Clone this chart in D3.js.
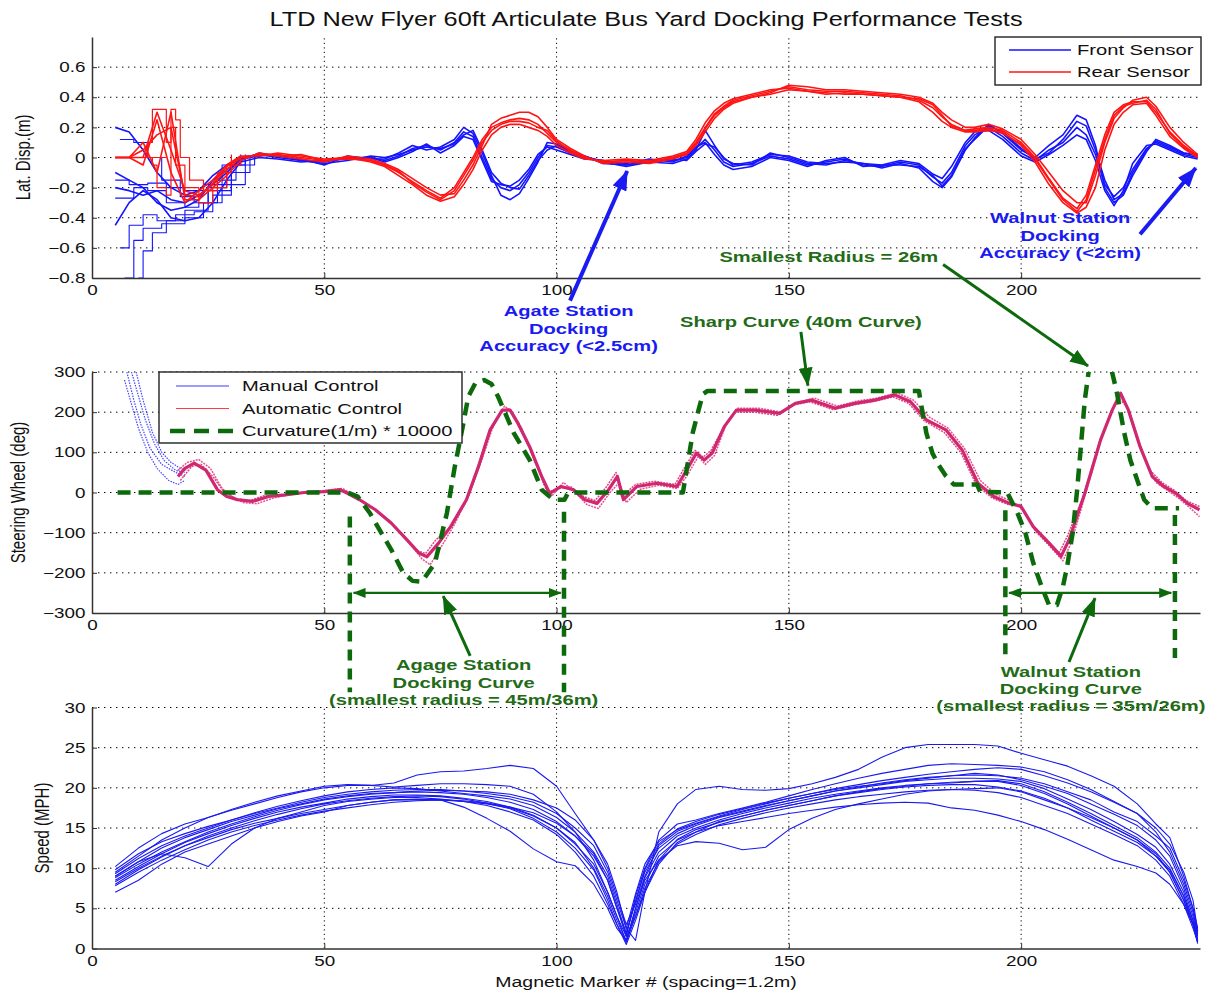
<!DOCTYPE html>
<html><head><meta charset="utf-8">
<script src="https://cdn.jsdelivr.net/npm/d3@7"></script>
<style>
body{margin:0;background:#fff;}
svg{display:block;font-family:"Liberation Sans",Arial,Helvetica,sans-serif;}
</style></head><body>
<svg id="chart" width="1216" height="992"></svg>
<script>
// ---------------- DATA ----------------
const xTicks = [0, 50, 100, 150, 200];
const latTicks = [-0.8, -0.6, -0.4, -0.2, 0, 0.2, 0.4, 0.6];
const steerTicks = [-300, -200, -100, 0, 100, 200, 300];
const speedTicks = [0, 5, 10, 15, 20, 25, 30];

// Lateral displacement: common marker grid
const latGrid = [5,8,11,14,17,20,23,26,29,32,36,40,45,50,55,60,63,66,69,72,75,78,80,82,84,86,88,90,92,94,96,98,100,103,106,110,115,120,125,128,130,132,134,136,138,142,146,150,154,158,162,166,170,174,178,181,183,185,188,190,193,196,200,203,206,209,212,214,216,218,220,222,224,227,229,232,235,238];
const front1 = [0.20,0.17,0.05,-0.10,-0.20,-0.25,-0.22,-0.12,-0.05,0.00,0.02,0.00,-0.02,-0.03,0.00,0.00,-0.02,0.01,0.06,0.08,0.05,0.10,0.17,0.14,0.00,-0.14,-0.20,-0.22,-0.18,-0.10,0.00,0.08,0.07,0.03,0.00,-0.02,-0.05,-0.02,-0.02,0.00,0.06,0.12,0.05,-0.03,-0.06,-0.04,0.01,-0.01,-0.05,-0.03,-0.01,-0.05,-0.06,-0.03,-0.05,-0.13,-0.17,-0.10,0.08,0.15,0.20,0.14,0.03,-0.02,0.05,0.10,0.20,0.15,0.02,-0.18,-0.26,-0.20,-0.08,0.06,0.10,0.06,0.02,0.00];
const front2 = [-0.10,-0.15,-0.20,-0.30,-0.35,-0.33,-0.28,-0.15,-0.08,-0.02,0.03,0.01,-0.01,-0.05,0.01,-0.01,-0.01,0.03,0.08,0.05,0.07,0.12,0.20,0.16,0.03,-0.12,-0.25,-0.28,-0.24,-0.14,-0.03,0.10,0.09,0.04,0.01,-0.03,-0.06,-0.03,-0.04,-0.01,0.05,0.18,0.08,-0.01,-0.04,-0.05,0.03,0.00,-0.04,-0.05,-0.02,-0.04,-0.07,-0.04,-0.07,-0.16,-0.20,-0.13,0.05,0.13,0.22,0.16,0.05,0.00,0.08,0.15,0.28,0.25,0.08,-0.20,-0.30,-0.25,-0.12,0.04,0.12,0.08,0.03,0.01];
const front3 = [-0.45,-0.30,-0.22,-0.28,-0.40,-0.42,-0.40,-0.30,-0.15,-0.03,0.00,-0.01,-0.03,-0.02,-0.01,0.00,-0.03,0.00,0.04,0.09,0.03,0.08,0.14,0.12,-0.02,-0.16,-0.18,-0.19,-0.15,-0.08,0.02,0.07,0.05,0.02,-0.01,-0.02,-0.04,-0.01,-0.03,0.01,0.07,0.10,0.02,-0.05,-0.08,-0.06,0.00,-0.02,-0.06,-0.02,0.00,-0.06,-0.05,-0.02,-0.04,-0.11,-0.14,-0.06,0.10,0.17,0.18,0.12,0.01,-0.03,0.02,0.08,0.15,0.12,-0.02,-0.22,-0.32,-0.22,-0.04,0.08,0.09,0.05,0.01,-0.01];
const front4 = [-0.20,-0.22,-0.25,-0.22,-0.28,-0.30,-0.25,-0.18,-0.10,-0.01,0.01,0.02,-0.02,-0.04,-0.02,0.01,0.00,0.02,0.05,0.07,0.06,0.09,0.15,0.18,0.05,-0.10,-0.17,-0.20,-0.21,-0.12,-0.02,0.05,0.08,0.04,0.01,-0.04,-0.05,-0.03,-0.01,-0.02,0.04,0.09,0.07,0.00,-0.05,-0.03,0.02,0.01,-0.03,-0.04,-0.03,-0.04,-0.05,-0.05,-0.06,-0.12,-0.19,-0.12,0.06,0.12,0.21,0.17,0.06,-0.01,0.03,0.12,0.24,0.21,0.05,-0.15,-0.28,-0.24,-0.10,0.05,0.11,0.07,0.03,0.02];
const rear1 = [0,0,0,0.30,0.05,-0.22,-0.25,-0.18,-0.08,0.00,0.02,0.02,0.00,-0.02,0.00,-0.02,-0.05,-0.10,-0.16,-0.22,-0.27,-0.20,-0.10,0.00,0.12,0.20,0.23,0.25,0.26,0.25,0.22,0.16,0.10,0.05,0.00,-0.03,-0.02,-0.03,0.00,0.03,0.10,0.20,0.29,0.34,0.38,0.41,0.44,0.47,0.45,0.44,0.44,0.43,0.42,0.41,0.38,0.33,0.27,0.22,0.18,0.19,0.20,0.18,0.10,0.00,-0.14,-0.27,-0.34,-0.25,-0.05,0.15,0.30,0.35,0.37,0.37,0.30,0.17,0.08,0.01];
const rear2 = [0,0,0.10,-0.10,0.30,-0.28,-0.28,-0.20,-0.12,-0.02,0.03,0.01,-0.01,-0.03,0.01,-0.01,-0.04,-0.08,-0.14,-0.20,-0.25,-0.24,-0.15,-0.05,0.08,0.22,0.26,0.28,0.30,0.30,0.27,0.20,0.12,0.06,0.01,-0.04,-0.03,-0.04,-0.01,0.02,0.08,0.17,0.26,0.32,0.36,0.40,0.43,0.48,0.47,0.45,0.45,0.44,0.43,0.42,0.40,0.36,0.30,0.25,0.20,0.20,0.22,0.19,0.12,0.02,-0.10,-0.22,-0.30,-0.30,-0.12,0.10,0.26,0.33,0.38,0.40,0.34,0.20,0.10,0.02];
const rear3 = [0,0,-0.05,0.25,-0.10,-0.30,-0.22,-0.15,-0.05,0.01,0.01,0.03,0.01,-0.01,0.00,-0.03,-0.06,-0.12,-0.18,-0.25,-0.29,-0.26,-0.18,-0.08,0.05,0.15,0.20,0.22,0.22,0.20,0.18,0.14,0.08,0.03,-0.01,-0.02,-0.01,-0.02,0.01,0.04,0.12,0.23,0.31,0.36,0.39,0.42,0.45,0.46,0.44,0.42,0.43,0.42,0.41,0.40,0.37,0.30,0.24,0.20,0.17,0.17,0.18,0.17,0.08,-0.03,-0.18,-0.30,-0.37,-0.33,-0.20,0.05,0.22,0.30,0.35,0.36,0.28,0.14,0.06,0.00];
const rear4 = [0,0,0.05,0.15,0.20,-0.25,-0.26,-0.17,-0.06,0.00,0.02,0.01,0.02,-0.02,-0.01,-0.02,-0.05,-0.09,-0.17,-0.23,-0.28,-0.22,-0.12,-0.02,0.10,0.18,0.22,0.24,0.24,0.23,0.20,0.18,0.11,0.04,0.00,-0.03,-0.02,-0.03,0.00,0.02,0.09,0.19,0.28,0.33,0.37,0.40,0.42,0.45,0.44,0.43,0.42,0.42,0.41,0.40,0.39,0.35,0.28,0.21,0.18,0.18,0.19,0.16,0.09,-0.01,-0.15,-0.28,-0.36,-0.28,-0.08,0.12,0.28,0.34,0.36,0.38,0.32,0.16,0.07,0.01];
// Early, diverging front-sensor runs  [marker, m]
const frontEarly = [
  [[6,-0.60],[8,-0.45],[11,-0.38],[14,-0.42],[18,-0.38],[22,-0.36],[26,-0.25],[30,-0.10],[34,0.00]],
  [[7,-0.80],[9,-0.55],[11,-0.47],[15,-0.44],[20,-0.40],[24,-0.30],[28,-0.18],[33,0.00]],
  [[10,-0.80],[11,-0.62],[13,-0.50],[16,-0.42],[20,-0.35],[25,-0.22],[30,-0.05],[35,0.02]],
  [[6,0.12],[9,0.10],[12,0.00],[15,-0.15],[19,-0.26],[22,-0.30],[25,-0.20],[29,-0.05],[33,0.02]],
  [[5,-0.27],[9,-0.20],[12,-0.22],[16,-0.30],[20,-0.33],[23,-0.30],[27,-0.15],[31,-0.02]],
  [[5,-0.15],[8,-0.18],[12,-0.17],[16,-0.20],[20,-0.22],[24,-0.18],[28,-0.05],[32,0.02]]
];
const rearEarly = [
  [[11,0],[12,0.10],[13,0.32],[15,0.32],[16,0.10],[17,0.20],[18,-0.05],[20,-0.20],[23,-0.30],[26,-0.20],[29,-0.05],[32,0]],
  [[12,0],[13,-0.05],[14,-0.20],[16,-0.25],[17,0.32],[18,0.25],[19,0.00],[21,-0.15],[24,-0.22],[27,-0.10],[30,0.02]]
];

// Steering wheel [marker, deg]
const manual1 = [[7.5,300],[9,230],[10.5,170],[12.5,110],[15,70],[18,50],[20,40]];
const manual2 = [[8.5,300],[10,240],[11.5,180],[13.5,120],[15.5,80],[18,55],[20,50]];
const manual3 = [[7,280],[8.5,220],[10,160],[12,100],[14,60],[16.5,30],[18.5,20],[20,30]];
const manual4 = [[9.5,300],[11,230],[13,150],[15,100],[17,75],[19,60],[20.5,55]];
const auto1 = [[18.5,40],[20,60],[22,73],[24.5,56],[27,7],[29,-10],[31.3,-18],[34.6,-22],[38,-10],[41.5,-6],[45.7,0],[50,2],[53.4,7],[55,-2],[57.6,-18],[61,-43],[64.4,-76],[67.8,-118],[70.4,-151],[72.1,-160],[74.6,-126],[77.2,-85],[80.6,-18],[83.2,65],[85.7,156],[88.3,205],[90,205],[91.7,172],[94.2,114],[96.8,40],[98.5,-2],[101,15],[103.6,7],[106.1,-18],[108.7,-27],[111.2,7],[113.1,40],[114.4,-18],[117.3,15],[121.6,23],[125.9,15],[127.6,48],[130.1,98],[131.8,81],[133.5,98],[136.1,164],[138.7,205],[142.9,205],[148,197],[151.4,222],[154.9,230],[160,210],[164.2,222],[168.5,230],[172.8,243],[176.2,226],[179.6,181],[183.8,156],[187.3,106],[190.7,23],[194.1,-10],[197.5,-27],[200,-35],[202.6,-85],[206,-126],[208.6,-159],[210.3,-118],[213.7,-2],[217.1,131],[219.6,205],[221.4,247],[223.1,205],[225.6,114],[228.2,40],[230.7,15],[233.3,-2],[235.8,-27],[238.4,-43]];
const auto2 = [[18.5,55],[20.5,75],[23,82],[25.5,60],[28,10],[30,-8],[32.5,-25],[35.5,-28],[39,-14],[43,-4],[47,2],[51,6],[54,10],[56,-4],[58.5,-24],[62,-52],[65.5,-88],[68.5,-128],[71,-165],[72.8,-180],[75.2,-135],[78,-80],[81.2,-5],[84,85],[86.5,170],[88.8,215],[90.5,200],[92.5,160],[95,95],[97.3,20],[99,-8],[101.5,25],[104,0],[106.5,-30],[109,-40],[111.5,0],[113.5,25],[115,-25],[118,8],[122,18],[126,10],[128,40],[130.5,90],[132,70],[134,92],[136.5,170],[139,210],[143.5,210],[148.5,200],[152,225],[155.5,235],[160.5,215],[164.8,228],[169,235],[173.3,248],[176.8,230],[180.2,188],[184.3,160],[187.8,110],[191.2,30],[194.6,-5],[198,-22],[200.5,-42],[203,-95],[206.5,-138],[209,-170],[210.8,-125],[214.2,10],[217.6,145],[220,215],[221.8,240],[223.6,190],[226.3,95],[229,25],[231.5,5],[234,-15],[236.5,-40],[238.4,-60]];
const auto3 = [[19,30],[21.5,65],[23.5,70],[26,40],[28.5,0],[31,-15],[34,-20],[37,-8],[41,-8],[45,-2],[49,0],[53,4],[55.5,0],[57,-12],[60.5,-38],[64,-70],[67.3,-110],[70,-145],[71.8,-152],[74,-118],[76.8,-90],[80.2,-30],[82.8,55],[85.3,145],[88,198],[89.6,210],[91.3,180],[93.8,120],[96.3,50],[98,0],[100.5,10],[103,15],[105.8,-10],[108.3,-20],[110.8,15],[112.8,50],[114,-10],[117,20],[121,28],[125.5,20],[127.2,55],[129.8,105],[131.5,88],[133.2,104],[135.8,158],[138.4,200],[142.5,200],[147.6,192],[151,218],[154.5,226],[159.6,206],[163.8,218],[168,226],[172.4,238],[175.8,222],[179.2,178],[183.4,150],[187,100],[190.4,18],[193.8,-14],[197.2,-30],[199.6,-30],[202.2,-78],[205.6,-118],[208.2,-150],[209.9,-110],[213.3,-12],[216.7,120],[219.2,195],[221,235],[222.7,215],[225.2,125],[227.8,55],[230.3,25],[233,5],[235.5,-20],[238.4,-35]];
// Curvature(1/m)*10000  [marker, value]
const curvature = [[5.5,0],[55,0],[57.2,-10],[59.8,-51],[61.9,-93],[64.4,-142],[67,-200],[69,-220],[71,-222],[73.8,-176],[76.4,-51],[78.1,65],[79.8,164],[81,239],[82.5,272],[84.4,280],[86,270],[87.4,239],[90.8,148],[94.2,81],[96.8,7],[99.3,-18],[101.7,-18],[102.5,0],[127.2,0],[129.3,148],[130.6,207],[131.5,245],[132.5,253],[178,253],[178.3,230],[179.6,148],[180.9,98],[182.2,69],[183.8,41],[185.5,20],[190.5,20],[191.2,2],[197,0],[199.2,-51],[200.9,-100],[202.6,-175],[204.4,-234],[206,-280],[207.7,-280],[209,-234],[209.9,-184],[211.1,-100],[212,0],[212.8,106],[213.7,230],[214.5,298],[216,385],[218.2,385],[219.6,298],[220.5,255],[222.2,148],[223.5,81],[225.2,24],[226.5,-18],[228.2,-39],[234,-39]];

// Speed (MPH) on a common marker grid
const speedGrid = [5,10,15,20,25,30,35,40,45,50,55,60,65,70,75,80,85,90,95,100,104,108,111,113,115,117,119,122,126,130,135,140,145,150,155,160,165,170,175,180,185,190,195,200,205,210,215,220,225,229,232,235,237,238];
const speed1 = [9.5,11.5,13.5,15.0,16.3,17.3,18.2,19.0,19.6,20.2,20.4,20.3,20.6,21.6,22.0,22.1,22.4,22.8,22.4,20.2,16.8,13.5,10.5,7.0,2.5,1.0,7.0,14.5,18.0,19.8,20.2,19.8,19.7,19.9,20.5,21.3,22.3,23.8,25.0,25.4,25.4,25.4,25.2,24.3,23.5,22.7,21.5,20.2,18.0,15.5,13.8,9.0,5.0,2.5];
const speed2 = [9.0,10.8,11.8,11.3,10.2,13.0,15.0,16.2,17.0,17.8,18.3,18.6,18.8,18.8,18.6,18.3,17.8,17.0,16.0,14.2,12.0,9.0,5.5,3.0,0.8,4.0,7.0,10.5,13.2,14.5,15.8,16.5,17.2,17.8,18.4,19.0,19.5,19.9,20.2,20.5,20.6,20.8,20.9,20.5,19.5,18.2,16.8,15.3,13.8,12.0,10.0,6.5,3.5,1.5];
const speed3 = [7.0,8.5,10.5,12.0,13.0,14.0,15.0,15.8,16.5,17.0,17.8,18.2,18.5,18.5,18.5,17.6,16.2,14.6,12.4,10.8,10.3,8.0,5.0,2.5,1.0,5.0,8.5,11.0,12.8,13.3,13.1,12.3,12.6,14.8,16.2,17.3,18.0,18.6,19.2,19.6,19.8,19.9,20.0,19.5,18.5,17.5,16.3,15.0,13.5,11.5,9.5,6.0,3.0,1.0];
const speed4 = [8.3,10.0,11.5,12.8,13.8,14.8,15.6,16.2,16.8,17.3,17.8,18.2,18.5,18.6,18.5,18.3,18.0,17.5,16.5,15.0,13.2,10.0,6.5,3.5,1.0,4.5,8.0,11.5,13.5,14.5,15.3,15.8,16.3,16.8,17.2,17.6,17.9,18.1,18.2,18.1,17.5,17.2,16.6,15.8,14.8,13.6,12.3,11.0,10.2,9.4,8.0,5.5,3.0,1.2];
const speed5 = [10.2,12.5,14.3,15.5,16.3,17.2,18.0,18.8,19.5,20.0,20.3,20.3,20.1,20.3,20.5,20.5,20.4,20.2,19.2,17.0,14.5,11.0,7.0,4.0,1.5,6.5,10.0,13.5,15.5,16.0,16.8,17.5,18.2,19.0,19.8,20.5,21.2,21.8,22.3,22.8,23.0,22.9,22.8,22.6,22.0,21.0,19.8,18.3,16.8,14.5,12.0,8.0,4.5,1.8];
const speed6 = [8.5,10.2,11.8,13.2,14.3,15.3,16.2,17.0,17.6,18.1,18.6,18.9,19.1,19.1,19.0,18.7,18.3,17.6,16.6,15.0,13.0,10.5,7.0,4.0,0.8,5.0,8.8,12.0,14.0,15.0,16.0,16.8,17.5,18.1,18.7,19.2,19.6,20.0,20.3,20.5,20.7,20.8,20.8,20.3,19.3,18.0,16.5,15.0,13.5,11.8,9.5,6.0,3.0,0.8];
const speed7 = [9.0,10.8,12.5,13.8,14.8,15.8,16.6,17.4,18.0,18.6,19.0,19.3,19.4,19.5,19.4,19.2,18.8,18.2,17.3,15.8,14.0,11.5,8.5,5.0,2.0,6.0,9.5,12.5,14.3,15.3,16.3,17.0,17.7,18.4,19.0,19.6,20.0,20.4,20.8,21.0,21.2,21.2,21.1,20.8,19.9,18.6,17.3,15.8,14.2,12.6,10.5,7.0,3.5,1.0];
const speed8 = [7.8,9.5,11.0,12.3,13.5,14.5,15.3,16.0,16.6,17.1,17.5,17.9,18.2,18.4,18.5,18.4,18.1,17.6,16.9,15.6,14.0,11.8,8.5,5.0,1.5,4.0,7.5,10.8,13.0,14.2,15.4,16.2,16.9,17.5,18.0,18.5,18.9,19.2,19.5,19.7,19.8,19.7,19.4,18.8,17.8,16.8,15.5,14.2,12.8,11.0,9.0,5.5,2.5,0.8];
const speed9 = [9.8,11.8,13.3,14.3,15.2,16.0,16.8,17.5,18.2,18.8,19.2,19.5,19.7,19.8,19.8,19.6,19.3,18.9,18.2,16.8,15.0,12.8,9.5,6.0,2.5,6.8,10.5,13.3,14.8,15.6,16.5,17.3,18.0,18.7,19.3,19.8,20.2,20.5,20.9,21.2,21.5,21.8,21.6,21.0,20.2,19.3,18.0,16.7,15.3,13.5,11.5,7.5,4.0,1.5];
const speed10 = [8.8,10.5,12.0,13.3,14.5,15.5,16.4,17.2,17.9,18.5,18.9,19.2,19.4,19.6,19.7,19.6,19.5,19.2,18.5,17.5,16.0,13.5,10.0,6.5,3.0,5.5,9.0,12.8,14.6,15.5,16.4,17.1,17.8,18.4,19.0,19.6,20.1,20.6,21.0,21.3,21.5,21.6,21.5,21.2,20.5,19.5,18.5,17.0,15.8,14.0,12.5,8.5,5.0,2.0];
const speed11 = [8.0,9.8,11.4,12.8,14.0,15.0,15.9,16.7,17.4,18.0,18.4,18.7,18.9,19.0,18.9,18.6,18.1,17.4,16.2,14.5,12.5,9.8,6.0,3.0,0.5,3.5,7.0,11.0,13.6,14.8,15.7,16.5,17.2,17.8,18.4,19.0,19.4,19.8,20.1,20.3,20.4,20.4,20.1,19.6,18.7,17.5,16.0,14.6,13.2,11.5,9.8,6.5,3.0,0.6];
const speed12 = [9.3,11.2,12.8,14.0,15.0,16.0,16.9,17.7,18.4,19.0,19.5,19.8,20.0,19.9,19.6,19.3,19.0,18.6,17.8,16.3,14.5,12.0,9.0,5.5,1.8,5.8,9.8,13.0,14.9,15.8,16.7,17.4,18.1,18.7,19.3,19.9,20.4,20.9,21.3,21.7,22.0,22.3,22.5,22.3,21.5,20.6,19.5,18.2,16.8,15.0,13.0,9.5,6.0,2.2];

// Text
const titleText = "LTD New Flyer 60ft Articulate Bus Yard Docking Performance Tests";
const latLegend = ["Front Sensor", "Rear Sensor"];
const steerLegend = ["Manual Control", "Automatic Control", "Curvature(1/m) * 10000"];

// ---------------- DRAWING ----------------
const SX = 1.3;  // horizontal stretch of the reference's lettering
const BLUE = "#1414ff", RED = "#ff1414", GREEN = "#0c6a0c", GTXT = "#236b17", ABLUE = "#1a1af2";
const svg = d3.select("#chart");
const defs = svg.append("defs");

const x = d3.scaleLinear().domain([0, 238.5]).range([92, 1200]);
const yLat = d3.scaleLinear().domain([-0.8, 0.8]).range([278, 37]);
const ySteer = d3.scaleLinear().domain([-300, 300]).range([613, 372]);
const ySpeed = d3.scaleLinear().domain([0, 30]).range([948.5, 707.5]);

function grid(y, ticks, id) {
  const [yb, yt] = y.range();
  const g = svg.append("g").attr("stroke", "#000").attr("stroke-width", 1);
  g.selectAll(".v").data(xTicks.filter(d => d > 0)).join("line")
    .attr("x1", d => x(d)).attr("x2", d => x(d)).attr("y1", yb).attr("y2", yt)
    .attr("stroke-dasharray", "1.2,3.3");
  g.selectAll(".h").data(ticks.filter(d => y(d) < yb - 1)).join("line")
    .attr("x1", x.range()[0]).attr("x2", x.range()[1]).attr("y1", d => y(d)).attr("y2", d => y(d))
    .attr("stroke-dasharray", "1.4,4.6");
  defs.append("clipPath").attr("id", id).append("rect")
    .attr("x", x.range()[0]).attr("y", yt).attr("width", x.range()[1] - x.range()[0]).attr("height", yb - yt);
  return svg.append("g").attr("clip-path", `url(#${id})`).attr("fill", "none").attr("stroke-linejoin", "round");
}

function axes(y, ticks, fmt) {
  const [yb] = y.range();
  const ax = svg.append("g").attr("transform", `translate(0,${yb})`)
    .call(d3.axisBottom(x).tickValues(xTicks).tickFormat(d3.format("d")).tickSizeInner(-5).tickSizeOuter(0).tickPadding(7));
  const ay = svg.append("g").attr("transform", `translate(${x.range()[0]},0)`)
    .call(d3.axisLeft(y).tickValues(ticks).tickFormat(fmt).tickSizeInner(-5).tickSizeOuter(0).tickPadding(5));
  [ax, ay].forEach(a => {
    a.attr("font-size", null).attr("font-family", null);
    a.select(".domain").attr("stroke", "#333").attr("stroke-width", 1.5);
    a.selectAll(".tick line").attr("stroke", "#333");
    a.selectAll(".tick text").attr("fill", "#111").style("font-size", "14.5px")
      .attr("transform", `scale(${SX},1)`);
  });
}

function txt(px, py, str, opt = {}) {
  svg.append("text")
    .attr("transform", `translate(${px},${py}) scale(${SX},1)`)
    .attr("text-anchor", opt.anchor || "middle")
    .attr("dy", "0.35em")
    .attr("font-size", opt.size || 15)
    .attr("font-weight", opt.weight || "normal")
    .attr("fill", opt.fill || "#111")
    .text(str);
}
function vtxt(px, py, str) {
  svg.append("text")
    .attr("transform", `translate(${px},${py}) rotate(-90) scale(1,${SX})`)
    .attr("text-anchor", "middle").attr("dy", "0.35em")
    .attr("font-size", 15).attr("fill", "#111").text(str);
}

function marker(id, color, w, h) {
  defs.append("marker").attr("id", id).attr("viewBox", `0 0 ${w} ${h}`)
    .attr("refX", w - 1).attr("refY", h / 2).attr("markerWidth", w).attr("markerHeight", h)
    .attr("markerUnits", "userSpaceOnUse").attr("orient", "auto-start-reverse")
    .append("path").attr("d", `M0,0L${w},${h / 2}L0,${h}Z`).attr("fill", color);
}
marker("ahBlue", ABLUE, 20, 15);
marker("ahGreen", GREEN, 19, 14);
marker("ahGreenS", GREEN, 13, 10);

// ===== Panel 1: lateral displacement =====
const p1 = grid(yLat, latTicks, "c1");
const lLat = d3.line().x(d => x(d[0])).y(d => yLat(d[1]));
const lLatStep = d3.line().curve(d3.curveStepAfter).x(d => x(d[0])).y(d => yLat(d[1]));
const zipLat = vals => latGrid.map((g, i) => [g, vals[i]]);
frontEarly.forEach(t => p1.append("path").attr("d", lLatStep(t)).attr("stroke", BLUE).attr("stroke-width", 1.1));
[front1, front2, front3, front4].forEach(v => p1.append("path").attr("d", lLat(zipLat(v))).attr("stroke", BLUE).attr("stroke-width", 1.6));
p1.append("path").attr("d", lLat([[5, 0], [16, 0]])).attr("stroke", RED).attr("stroke-width", 1.2);
rearEarly.forEach(t => p1.append("path").attr("d", lLatStep(t)).attr("stroke", RED).attr("stroke-width", 1.2));
[rear1, rear2, rear3, rear4].forEach(v => p1.append("path").attr("d", lLat(zipLat(v))).attr("stroke", RED).attr("stroke-width", 1.6));
axes(yLat, latTicks, d => d === 0 ? "0" : d3.format(".1f")(d));

// legend 1
{
  const L = 995, R = x.range()[1] + 1, T = yLat(0.8), B = T + 48;
  svg.append("rect").attr("x", L).attr("y", T).attr("width", R - L).attr("height", B - T)
    .attr("fill", "#fff").attr("stroke", "#222").attr("stroke-width", 1.4);
  [BLUE, RED].forEach((c, i) => {
    const yy = T + 13 + i * 22;
    svg.append("line").attr("x1", L + 14).attr("x2", L + 76).attr("y1", yy).attr("y2", yy).attr("stroke", c).attr("stroke-width", 1.3);
    txt(L + 82, yy, latLegend[i], { anchor: "start", size: 15.5 });
  });
}

// ===== Panel 2: steering wheel =====
const p2 = grid(ySteer, steerTicks, "c2");
const lSt = d3.line().x(d => x(d[0])).y(d => ySteer(d[1]));
[manual1, manual2, manual3, manual4].forEach(t => p2.append("path").attr("d", lSt(t)).attr("stroke", "#4646ff").attr("stroke-width", 1.2).attr("stroke-dasharray", "1.5,1.2"));
p2.append("path").attr("d", lSt(auto2)).attr("stroke", "#e8508e").attr("stroke-width", 1.5).attr("stroke-dasharray", "2,1");
p2.append("path").attr("d", lSt(auto3)).attr("stroke", "#e0447f").attr("stroke-width", 1.5).attr("stroke-dasharray", "2,1");
p2.append("path").attr("d", lSt(auto1)).attr("stroke", "#cf2870").attr("stroke-width", 3.2);
p2.append("path").attr("d", lSt(curvature)).attr("stroke", GREEN).attr("stroke-width", 4.5).attr("stroke-dasharray", "13,8");
axes(ySteer, steerTicks, d3.format("d"));

// legend 2
{
  const L = 159, T = ySteer(300), W = 303, H = 71;
  svg.append("rect").attr("x", L).attr("y", T).attr("width", W).attr("height", H)
    .attr("fill", "#fff").attr("stroke", "#222").attr("stroke-width", 1.4);
  const ys = [T + 14, T + 36.5, T + 59];
  svg.append("line").attr("x1", L + 17).attr("x2", L + 70).attr("y1", ys[0]).attr("y2", ys[0]).attr("stroke", "#3a3aff").attr("stroke-width", 1);
  svg.append("line").attr("x1", L + 17).attr("x2", L + 70).attr("y1", ys[1]).attr("y2", ys[1]).attr("stroke", "#ff3a4a").attr("stroke-width", 1);
  svg.append("line").attr("x1", L + 11).attr("x2", L + 75).attr("y1", ys[2]).attr("y2", ys[2]).attr("stroke", GREEN).attr("stroke-width", 4.5).attr("stroke-dasharray", "15,9");
  steerLegend.forEach((s, i) => txt(L + 83, ys[i], s, { anchor: "start", size: 15.5 }));
}

// ===== Panel 3: speed =====
const p3 = grid(ySpeed, speedTicks, "c3");
const lSp = d3.line().x(d => x(d[0])).y(d => ySpeed(d[1]));
[speed1, speed2, speed3, speed4, speed5, speed6, speed7, speed8, speed9, speed10, speed11, speed12]
  .forEach(v => p3.append("path").attr("d", lSp(speedGrid.map((g, i) => [g, v[i]]))).attr("stroke", "#1a1af0").attr("stroke-width", 1.1));
axes(ySpeed, speedTicks, d3.format("d"));

// ===== Titles =====
txt(646, 19, titleText, { size: 19.5 });
vtxt(23, yLat(0), "Lat. Disp.(m)");
vtxt(18, ySteer(0), "Steering Wheel (deg)");
vtxt(42, ySpeed(15), "Speed (MPH)");
txt(646, 982, "Magnetic Marker # (spacing=1.2m)", { size: 15 });

// ===== Annotations =====
function arrow(p0, p1, color, w, mk, both) {
  const a = svg.append("line").attr("x1", p0[0]).attr("y1", p0[1]).attr("x2", p1[0]).attr("y2", p1[1])
    .attr("stroke", color).attr("stroke-width", w).attr("marker-end", `url(#${mk})`);
  if (both) a.attr("marker-start", `url(#${mk})`);
}
const P1 = (m, v) => [x(m), yLat(v)];
const P2 = (m, v) => [x(m), ySteer(v)];

// Agate station accuracy (blue)
arrow(P1(102.9, -0.95), P1(115.2, -0.09), ABLUE, 4, "ahBlue");
["Agate Station", "Docking", "Accuracy (<2.5cm)"].forEach((s, i) => txt(x(102.6), 311 + i * 17.5, s, { weight: "bold", fill: ABLUE, size: 15.5 }));
// Walnut station accuracy (blue)
arrow(P1(225.6, -0.51), P1(237.6, -0.07), ABLUE, 4, "ahBlue");
["Walnut Station", "Docking", "Accuracy (<2cm)"].forEach((s, i) => txt(x(208.4), 218 + i * 17.5, s, { weight: "bold", fill: ABLUE, size: 15.5 }));
// Smallest radius (green)
txt(x(158.6), 257, "Smallest Radius = 26m", { weight: "bold", fill: GTXT, size: 15.5 });
arrow(P1(183.2, -0.71), P2(214.4, 315), GREEN, 3, "ahGreen");
// Sharp curve
txt(x(152.6), 322, "Sharp Curve (40m Curve)", { weight: "bold", fill: GTXT, size: 15.5 });
arrow(P2(152.6, 400), P2(154.1, 266), GREEN, 3, "ahGreen");
// Agage docking curve
[[55.5, -60], [101.6, -48]].forEach(d => svg.append("line").attr("x1", x(d[0])).attr("x2", x(d[0]))
  .attr("y1", ySteer(d[1])).attr("y2", ySteer(-497)).attr("stroke", GREEN).attr("stroke-width", 4.5).attr("stroke-dasharray", "11,8"));
arrow(P2(56.3, -250), P2(100.9, -250), GREEN, 2.2, "ahGreenS", true);
arrow(P2(81.4, -407), P2(75.6, -258), GREEN, 3, "ahGreen");
["Agage Station", "Docking Curve", "(smallest radius = 45m/36m)"].forEach((s, i) => txt(x(80), 665 + i * 17.5, s, { weight: "bold", fill: GTXT, size: 15.5 }));
// Walnut docking curve
[[196.6, -44], [233.1, -56]].forEach(d => svg.append("line").attr("x1", x(d[0])).attr("x2", x(d[0]))
  .attr("y1", ySteer(d[1])).attr("y2", ySteer(-412)).attr("stroke", GREEN).attr("stroke-width", 4.5).attr("stroke-dasharray", "11,8"));
arrow(P2(197.4, -250), P2(232.3, -250), GREEN, 2.2, "ahGreenS", true);
arrow(P2(210.3, -422), P2(215.9, -263), GREEN, 3, "ahGreen");
["Walnut Station", "Docking Curve", "(smallest radius = 35m/26m)"].forEach((s, i) => txt(x(210.7), 672 + i * 17, s, { weight: "bold", fill: GTXT, size: 15.5 }));
</script>
</body></html>
